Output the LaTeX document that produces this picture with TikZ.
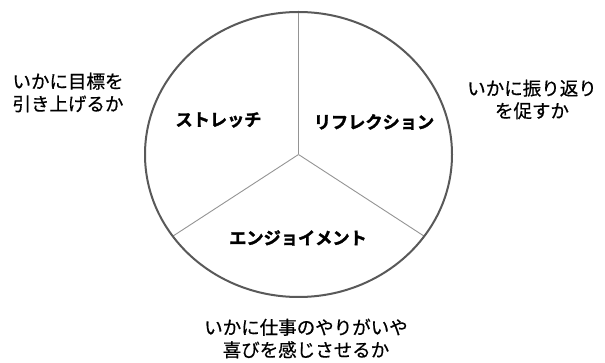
\documentclass[tikz,border=0pt]{standalone}
\usepackage{fontspec}
\setmainfont[FakeBold=0.6]{Noto Sans CJK JP}
\newfontfamily\jpbold[FakeBold=1.8]{Noto Sans CJK JP Bold}
\begin{document}
\begin{tikzpicture}[x=1pt,y=-1pt,
  outer/.style={draw=none,inner sep=0pt,align=center,font=\fontsize{18.5}{22.5}\selectfont,text=black},
  inner/.style={inner sep=0pt,font=\jpbold\fontsize{17.2}{20}\selectfont,text=black},
  divider/.style={draw=black!42,line width=0.9pt},
  rim/.style={draw=black!65,line width=2pt}]
\useasboundingbox[fill=white] (0,0) rectangle (605,363);
\coordinate (c) at (298.5,154.5);
\coordinate (top) at (298.5,12);
\coordinate (lr) at (424.2,236.2);
\coordinate (ll) at (172.8,236.2);
\draw[divider] (c) -- (top);
\draw[divider] (c) -- (lr);
\draw[divider] (c) -- (ll);
\draw[rim] (c) ellipse [x radius=153.5, y radius=142.5];
\node[inner] (stretch) at (218.5,120) {ストレッチ};
\node[inner] (refl) at (374,122) {リフレクション};
\node[inner] (enjoy) at (298,238) {エンジョイメント};
\node[outer] (goal) at (68,92.5) {いかに目標を\\引き上げるか};
\node[outer] (look) at (532,99.5) {いかに振り返り\\を促すか};
\node[outer] (joy) at (306,338.5) {いかに仕事のやりがいや\\喜びを感じさせるか};
\end{tikzpicture}
\end{document}
